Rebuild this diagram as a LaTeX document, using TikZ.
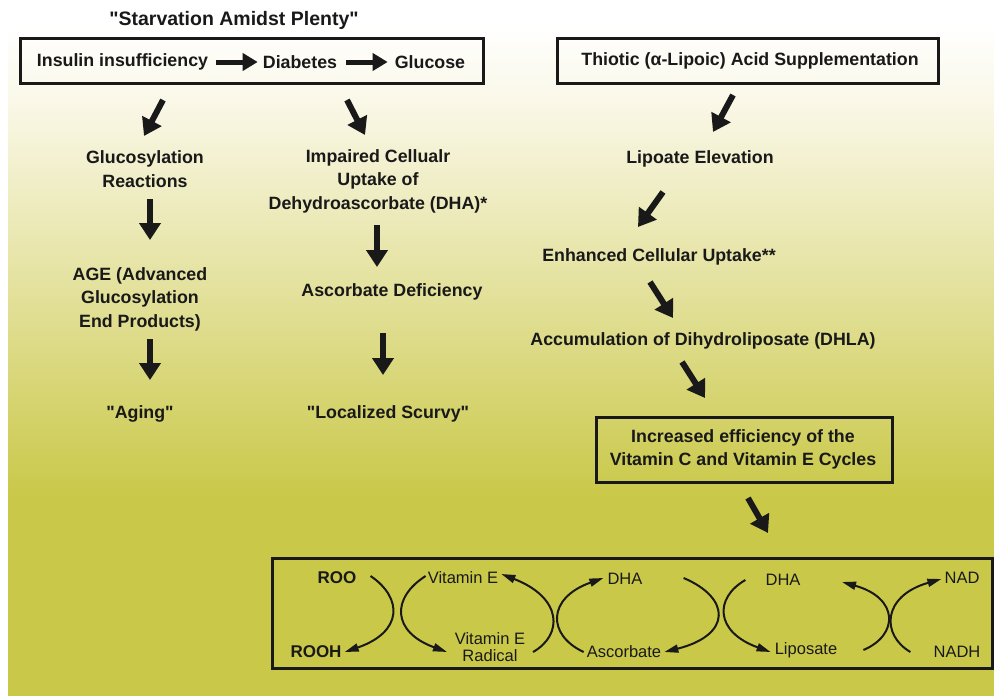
\documentclass[tikz,border=0pt]{standalone}
\usepackage{fontspec}
\setmainfont{Liberation Sans}
\usetikzlibrary{arrows.meta}
\definecolor{bgol}{RGB}{201,200,72}
\definecolor{bgmid}{RGB}{226,224,152}
\definecolor{bglight}{RGB}{250,248,232}
\definecolor{ink}{RGB}{25,25,25}
\pgfdeclareverticalshading{bgshade}{100bp}{color(0bp)=(bgol); color(25bp)=(bgol); color(39.6bp)=(bgol); color(54.5bp)=(bgmid); color(69.4bp)=(bglight); color(75bp)=(white); color(100bp)=(white)}
\newcommand{\dq}{\textquotedbl}
\tikzset{
  txt/.style={font=\bfseries\fontsize{17.8}{23.5}\selectfont, align=center, inner sep=0pt, text=ink},
  ttl/.style={font=\bfseries\fontsize{19.5}{23}\selectfont, inner sep=0pt, text=ink},
  sm/.style={font=\fontsize{16.5}{16.5}\selectfont, align=center, inner sep=0pt, text=ink},
  smb/.style={font=\bfseries\fontsize{17}{17}\selectfont, inner sep=0pt, text=ink},
  framebox/.style={draw=ink, line width=3pt, inner sep=0pt},
  bigarr/.style={draw=ink, line width=6pt, -{Triangle[width=21pt,length=17pt]}},
  harr/.style={draw=ink, line width=5pt, -{Triangle[width=17pt,length=15pt]}},
  cyc/.style={draw=ink, line width=2pt, -{Triangle[width=8pt,length=14pt]}}
}
\begin{document}
\begin{tikzpicture}[x=1pt,y=-1pt]
\useasboundingbox (0,0) rectangle (994,696);
\fill[white] (0,0) rectangle (994,696);
\shade[shading=bgshade] (8,25) rectangle (994,696);

% title
\node[ttl] (title) at (234,20) {\dq Starvation Amidst Plenty\dq};

% top left box
\node[framebox, minimum width=463pt, minimum height=45pt] (box1) at (251.5,60.5) {};
\node[txt] (ins) at (122.5,62) {Insulin insufficiency};
\node[txt] (diab) at (300,62) {Diabetes};
\node[txt] (gluc) at (430,62) {Glucose};
\draw[harr] ([xshift=8pt]ins.east) -- ([xshift=-5pt]diab.west);
\draw[harr] ([xshift=9pt]diab.east) -- ([xshift=-7pt]gluc.west);

% top right box
\node[framebox, minimum width=381pt, minimum height=45pt] (box2) at (747.5,60.5) {};
\node[txt] (thio) at (750,61) {Thiotic (α-Lipoic) Acid Supplementation};

% left column
\node[txt] (glyc) at (145,169) {Glucosylation\\Reactions};
\node[txt] (age) at (140,299) {AGE (Advanced\\Glucosylation\\End Products)};
\node[txt] (aging) at (140,414) {\dq Aging\dq};

% middle column
\node[txt] (imp) at (378,181) {Impaired Cellualr\\Uptake of\\Dehydroascorbate (DHA)*};
\node[txt] (ascdef) at (392,292) {Ascorbate Deficiency};
\node[txt] (scurvy) at (388,414) {\dq Localized Scurvy\dq};

% right column
\node[txt] (lipo) at (700,159) {Lipoate Elevation};
\node[txt] (enh) at (659,257) {Enhanced Cellular Uptake**};
\node[txt] (accum) at (703,341) {Accumulation of Dihydroliposate (DHLA)};
\node[framebox, minimum width=296pt, minimum height=65pt] (box3) at (744,449.5) {};
\node[txt] (incr) at (743,449.5) {Increased efficiency of the\\Vitamin C and Vitamin E Cycles};

% arrow coordinates
\coordinate (a1s) at (163,100); \coordinate (a1e) at (144,136);
\coordinate (a2s) at (347,100); \coordinate (a2e) at (365,135);
\coordinate (a3s) at (150,199); \coordinate (a3e) at (150,240);
\coordinate (a4s) at (150,339); \coordinate (a4e) at (150,380);
\coordinate (a5s) at (377,225); \coordinate (a5e) at (377,267);
\coordinate (a6s) at (383,333); \coordinate (a6e) at (383,375);
\coordinate (a7s) at (733,95);  \coordinate (a7e) at (713,132);
\coordinate (a8s) at (663,192); \coordinate (a8e) at (638,227);
\coordinate (a9s) at (650,282); \coordinate (a9e) at (673,318);
\coordinate (a10s) at (682,362); \coordinate (a10e) at (705,398);
\coordinate (a11s) at (748,498); \coordinate (a11e) at (768,533);
\foreach \i in {1,...,11} {\draw[bigarr] (a\i s) -- (a\i e);}

% bottom box
\node[framebox, minimum width=720pt, minimum height=110pt] (box4) at (632,613) {};
\node[smb] (roo) at (337,578) {ROO};
\node[smb] (rooh) at (316,652) {ROOH};
\node[sm] (vite) at (463,578) {Vitamin E};
\node[sm] (rad) at (490,647) {Vitamin E\\Radical};
\node[sm] (dha1) at (625,579) {DHA};
\node[sm] (asc) at (624,652) {Ascorbate};
\node[sm] (dha2) at (783,580) {DHA};
\node[sm] (lipos) at (806,650) {Liposate};
\node[sm] (nad) at (962,578) {NAD};
\node[sm] (nadh) at (957,652) {NADH};

\draw[cyc] ([shift={(14pt,2pt)}]roo.east) .. controls (403,598) and (403,632) .. ([xshift=3pt]rooh.east);
\draw[cyc] ([shift={(-2pt,2pt)}]vite.west) .. controls (391,598) and (392,632) .. (447,652);
\draw[cyc] (533,652) .. controls (563,635) and (563,598) .. ([shift={(3pt,4pt)}]vite.east);
\draw[cyc] ([shift={(-3pt,0pt)}]asc.west) .. controls (547,635) and (547,598) .. ([shift={(-4pt,1pt)}]dha1.west);
\draw[cyc] ([shift={(41pt,1pt)}]dha1.east) .. controls (731,598) and (732,635) .. ([xshift=3pt]asc.east);
\draw[cyc] ([shift={(-20pt,0pt)}]dha2.west) .. controls (714,598) and (715,632) .. ([shift={(-4pt,-2pt)}]lipos.west);
\draw[cyc] ([xshift=26pt]lipos.east) .. controls (899,635) and (899,598) .. (842,582);
\draw[cyc] ([xshift=-23pt]nadh.west) .. controls (881,635) and (882,596) .. ([shift={(-3pt,-1pt)}]nad.west);
\end{tikzpicture}
\end{document}
